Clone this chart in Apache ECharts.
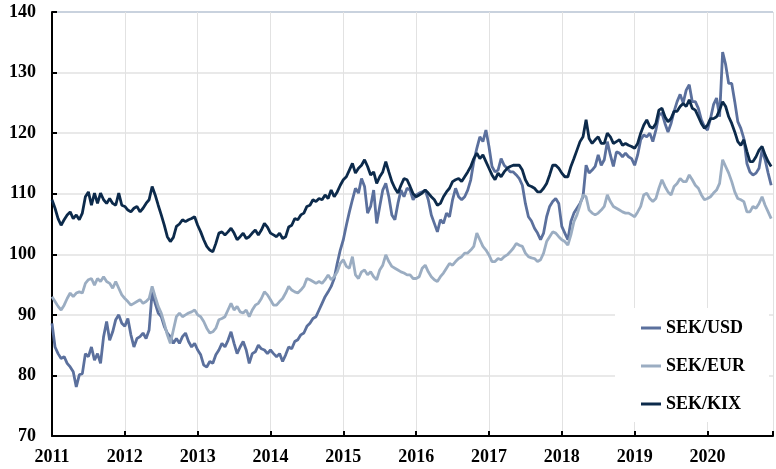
<!DOCTYPE html>
<html>
<head>
<meta charset="utf-8">
<script src="https://cdn.jsdelivr.net/npm/echarts@6/dist/echarts.min.js"></script>
<style>
html,body{margin:0;padding:0;background:#fff;}
#chart{width:776px;height:469px;}
</style>
</head>
<body>
<div id="chart"></div>
<script>
// Semi-monthly samples starting January 2011
const startYear = 2011;
const stepYears = 1 / 24;
const seriesNames = ['SEK/USD', 'SEK/EUR', 'SEK/KIX'];
const yearTicks = [2011, 2012, 2013, 2014, 2015, 2016, 2017, 2018, 2019, 2020];

const sekUsd = [
88.6,84.7,83.6,82.8,83.1,82.0,81.4,80.6,78.1,80.1,
80.3,83.6,83.1,84.7,82.5,83.6,82.0,86.4,88.9,85.8,
87.2,89.2,90.0,88.6,88.1,89.4,86.7,84.7,86.1,86.4,
87.0,86.1,87.5,93.8,91.9,90.3,89.7,88.1,87.0,86.4,
85.3,86.1,85.3,86.4,87.0,85.6,84.7,85.3,84.2,83.4,
81.7,81.4,82.3,82.0,83.4,84.2,85.3,84.7,85.8,87.2,
85.3,83.6,84.7,85.6,84.2,82.0,83.6,83.9,85.0,84.4,
84.2,83.6,84.2,83.6,83.1,83.6,82.3,83.4,84.7,84.4,
85.6,85.9,86.7,87.0,88.1,88.6,89.4,89.7,90.8,91.9,
93.0,93.8,94.7,96.0,98.5,100.7,102.4,104.8,107.0,109.0,
110.9,110.1,112.5,111.2,106.8,107.9,110.6,105.1,107.9,110.6,
111.7,109.5,106.5,105.7,108.4,110.6,109.5,110.9,110.6,109.0,
109.8,110.1,110.3,110.6,109.0,106.5,105.1,103.7,105.7,105.1,
106.8,106.2,109.0,110.9,109.5,109.0,109.5,110.6,112.3,115.3,
117.5,119.4,118.6,120.5,117.8,114.5,113.6,113.9,115.8,114.7,
114.2,113.6,113.6,113.1,112.5,111.4,108.4,106.2,105.5,104.3,
103.5,102.4,103.5,106.2,107.9,108.7,109.2,108.4,104.6,103.5,
102.4,105.4,106.8,107.6,108.4,109.5,114.7,113.4,113.9,114.5,
116.4,114.7,115.6,118.6,116.4,114.5,116.9,116.7,116.1,116.7,
116.1,115.8,114.7,116.4,118.9,119.7,119.4,120.0,118.6,120.5,
123.0,123.3,121.6,120.2,121.6,123.6,125.2,126.4,125.0,127.1,
128.0,125.2,125.2,124.1,122.2,121.1,120.5,122.4,124.7,125.8,
122.7,133.4,131.3,128.2,128.2,125.2,121.9,120.8,119.1,115.0,
113.6,113.1,113.4,114.2,117.2,115.6,113.4,111.4
];

const sekEur = [
93.0,92.2,91.4,90.8,91.6,92.7,93.6,93.0,93.6,93.8,
93.6,95.2,95.8,96.0,94.9,96.0,95.5,96.3,95.5,95.2,
94.4,95.5,94.4,93.3,92.7,92.2,91.6,91.9,92.2,92.5,
91.9,92.2,92.7,94.7,93.0,91.4,90.3,88.6,86.7,85.3,
87.5,89.7,90.3,89.7,90.0,90.3,90.5,90.8,90.0,89.7,
88.9,87.8,87.0,87.2,87.8,89.2,89.4,89.7,90.8,91.9,
90.8,91.4,90.5,90.3,90.8,89.7,90.8,91.6,91.9,92.7,
93.8,93.3,92.5,91.6,91.6,92.2,92.7,93.6,94.7,94.1,
93.8,93.6,94.1,94.7,96.0,95.8,95.5,95.2,95.5,95.2,
95.8,96.6,95.8,96.3,97.1,98.5,99.1,98.0,97.7,99.6,
96.6,96.0,97.1,97.4,96.6,97.1,96.3,95.8,97.4,98.2,
99.9,98.8,98.0,97.7,97.4,97.1,96.9,96.6,96.6,96.0,
96.0,96.3,97.7,98.2,97.1,96.3,95.8,95.5,96.3,96.9,
97.7,98.5,98.2,98.8,99.3,99.6,100.2,100.2,100.7,101.3,
103.5,102.4,101.3,100.7,99.9,98.8,98.8,99.3,99.1,99.6,
99.9,100.4,101.0,101.8,101.5,101.3,100.2,99.6,99.4,99.3,
98.8,99.1,100.2,102.1,102.9,103.7,103.5,102.9,102.4,102.1,
101.5,103.2,105.4,106.5,108.1,109.8,109.5,107.3,106.8,106.5,
106.8,107.3,107.9,109.8,108.7,107.9,107.6,107.3,107.0,106.8,
106.8,106.5,106.2,107.0,107.9,109.8,110.1,109.2,108.7,109.2,
110.9,112.3,111.2,110.3,109.8,111.2,111.7,112.5,112.0,112.0,
113.1,112.3,111.4,110.9,109.8,109.0,109.2,109.5,110.1,110.6,
111.7,115.6,114.5,113.4,112.0,110.3,109.2,109.0,108.7,107.0,
107.0,107.9,107.6,108.4,109.5,108.1,107.0,105.9
];

const sekKix = [
109.0,107.6,105.9,104.8,105.7,106.5,107.0,105.9,106.5,105.7,
106.8,109.5,110.3,108.1,110.1,108.4,110.1,109.0,108.4,109.2,
108.4,108.1,110.1,108.1,107.9,107.3,107.0,107.6,107.9,107.0,
107.6,108.4,109.0,111.2,109.8,108.1,106.5,104.8,102.9,102.1,
102.8,104.6,105.0,105.7,105.4,105.7,105.9,106.2,104.8,103.7,
102.4,101.3,100.7,100.4,101.8,103.5,103.7,103.2,103.7,104.3,
103.5,102.4,102.9,103.5,102.6,102.9,103.5,104.0,103.2,104.0,
105.1,104.5,103.5,103.2,102.9,103.5,102.6,102.9,104.5,104.8,
105.9,105.7,106.5,106.8,107.9,108.1,109.0,108.7,109.2,109.0,
109.8,109.2,110.6,109.5,110.3,111.4,112.3,112.8,113.9,115.0,
113.4,114.2,114.7,115.6,114.5,113.1,113.6,111.7,112.8,113.6,
115.3,113.6,112.0,110.9,110.1,111.4,112.5,112.3,111.2,110.0,
109.5,109.8,110.1,110.6,110.1,109.5,109.0,108.1,108.4,109.5,
110.3,110.9,112.0,112.3,112.5,112.0,112.8,113.6,114.5,115.8,
116.7,115.8,116.4,115.3,114.2,113.1,112.3,113.4,112.8,113.6,
114.2,114.5,114.7,114.7,114.7,113.9,112.3,111.4,111.2,110.9,
110.3,110.3,110.9,111.7,113.1,114.7,114.7,114.2,113.4,112.8,
112.8,114.5,115.8,117.2,118.6,119.4,122.2,119.1,118.3,118.9,
119.4,118.3,118.3,120.0,119.4,118.3,118.6,118.9,118.0,118.3,
118.0,117.8,117.5,118.3,120.0,121.3,122.2,121.1,120.8,121.6,
123.8,124.1,122.7,121.9,122.4,123.6,123.6,124.4,124.9,124.4,
125.5,124.1,123.8,122.7,121.6,120.8,121.3,122.4,122.4,122.7,
123.8,125.2,124.4,122.7,121.6,120.2,118.6,118.0,118.9,117.0,
115.3,115.3,116.1,117.2,117.8,116.4,115.3,114.5
];

const colors = ['#5b709d', '#9badc2', '#0c2a4b'];
const toPairs = arr => arr.map((v, i) => [startYear + i * stepYears, v]);
const serif = 'Liberation Serif, Times New Roman, serif';

const chart = echarts.init(document.getElementById('chart'), null, {renderer: 'canvas'});
chart.setOption({
  animation: false,
  backgroundColor: '#fff',
  color: colors,
  grid: {left: 52, right: 0, top: 12, bottom: 33},
  legend: {
    data: seriesNames,
    orient: 'vertical',
    left: 615,
    top: 308,
    backgroundColor: '#fff',
    padding: [11, 24, 9, 26],
    itemGap: 20,
    itemWidth: 20,
    itemHeight: 3,
    icon: 'rect',
    textStyle: {fontFamily: serif, fontWeight: 'bold', fontSize: 18, color: '#000'}
  },
  xAxis: {
    type: 'value',
    min: 2011,
    max: 2020.9,
    interval: 1,
    axisLine: {show: true, onZero: false, lineStyle: {color: '#000', width: 2}},
    axisTick: {show: true, inside: true, length: 5, lineStyle: {color: '#000', width: 2}},
    axisLabel: {
      margin: 12,
      fontFamily: serif, fontWeight: 'bold', fontSize: 18, color: '#000',
      formatter: v => (yearTicks.indexOf(v) >= 0 ? String(v) : '')
    },
    splitLine: {show: true, lineStyle: {color: '#e2e2e2', width: 1}}
  },
  yAxis: {
    type: 'value',
    min: 70,
    max: 140,
    interval: 10,
    axisLine: {show: true, lineStyle: {color: '#000', width: 2}},
    axisTick: {show: true, inside: true, length: 5, lineStyle: {color: '#000', width: 2}},
    axisLabel: {margin: 16, fontFamily: serif, fontWeight: 'bold', fontSize: 18, color: '#000'},
    splitLine: {show: true, lineStyle: {
      color: ['#e2e2e2','#e2e2e2','#e2e2e2','#e2e2e2','#e2e2e2','#e2e2e2','#e2e2e2','#b7c3d3'],
      width: 1.5
    }}
  },
  series: [
    {name: seriesNames[0], type: 'line', data: toPairs(sekUsd), showSymbol: false, symbol: 'none',
     lineStyle: {width: 2.8, color: colors[0]}, itemStyle: {color: colors[0]}},
    {name: seriesNames[1], type: 'line', data: toPairs(sekEur), showSymbol: false, symbol: 'none',
     lineStyle: {width: 2.8, color: colors[1]}, itemStyle: {color: colors[1]}},
    {name: seriesNames[2], type: 'line', data: toPairs(sekKix), showSymbol: false, symbol: 'none',
     lineStyle: {width: 2.8, color: colors[2]}, itemStyle: {color: colors[2]}}
  ]
});
</script>
</body>
</html>
